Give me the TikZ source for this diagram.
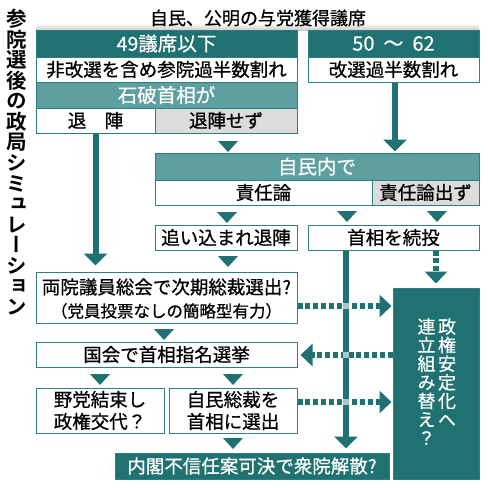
\documentclass[tikz,border=0pt]{standalone}
\usepackage{fontspec}
\setmainfont{Noto Sans CJK JP}[FakeBold=0.7]
\newfontfamily\vfont[RawFeature=+vert,FakeBold=0.7]{Noto Sans CJK JP}
\newfontfamily\vfontb[RawFeature=+vert]{Noto Sans CJK JP Bold}
\usetikzlibrary{arrows.meta}
\definecolor{tealD}{HTML}{1F7172}
\definecolor{tealL}{HTML}{5E9FA0}
\definecolor{tealB}{HTML}{2E7F80}
\definecolor{cellG}{HTML}{DCDCDC}
\definecolor{crossL}{HTML}{A8CACA}
\begin{document}
\begin{tikzpicture}[x=1pt,y=-1pt,
  base/.style={draw=tealB, line width=1pt, inner sep=0pt, align=center, font=\fontsize{18.5}{22}\selectfont},
  whitecell/.style={base, fill=white, text=black},
  graycell/.style={base, fill=cellG, text=black},
  darkcell/.style={base, fill=tealD, text=white},
  lightcell/.style={base, fill=tealL, text=white},
  headfont/.style={font=\fontsize{19.5}{22}\selectfont},
  textonly/.style={inner sep=0pt, font=\fontsize{18.5}{22}\selectfont},
  solidarrow/.style={draw=tealD, line width=6pt, -{Triangle[width=23pt,length=12pt]}},
  dotarrow/.style={draw=tealD, line width=6pt, dash pattern=on 5pt off 2.8pt, -{Triangle[width=22pt,length=12pt]}},
  vtext/.style={anchor=north, inner sep=0pt, align=center, text=white, font=\vfont\fontsize{18}{18.6}\selectfont}
]
\useasboundingbox (0,0) rectangle (488,488);
\fill[white] (0,0) rectangle (488,488);
\shade[top color=white, bottom color=gray!40] (36,23) rectangle (479,30);

% title and top label
\node[anchor=north, inner sep=0pt, align=center, font=\vfontb\fontsize{20.5}{20.55}\selectfont] (title) at (17,9)
  {参\\院\\選\\後\\の\\政\\局\\シ\\ミ\\ュ\\レ\\ー\\シ\\ョ\\ン};
\node[textonly, font=\fontsize{18}{22}\selectfont] (toplabel) at (258,18) {自民、公明の与党獲得議席};

% left block
\node[darkcell, headfont, minimum width=261pt, minimum height=27pt] (h49) at (166.5,43.5) {49議席以下};
\node[whitecell, minimum width=261pt, minimum height=25pt] (hirai) at (166.5,69.5) {非改選を含め参院過半数割れ};
\node[lightcell, headfont, minimum width=261pt, minimum height=26pt] (ishiba) at (166.5,95) {石破首相が};
\node[whitecell, minimum width=119pt, minimum height=25pt] (taijin) at (95.5,120.5) {退　陣};
\node[graycell, minimum width=142pt, minimum height=25pt] (sezu) at (226,120.5) {退陣せず};

% right block
\node[darkcell, headfont, minimum width=171pt, minimum height=27pt] (h50) at (393.5,43.5) {\fontsize{20}{22}\selectfont 50\hspace{0.45em}～\hspace{0.45em}62};
\node[whitecell, minimum width=171pt, minimum height=25pt] (kaisen) at (393.5,69.5) {改選過半数割れ};

% jimin-nai block
\node[lightcell, headfont, minimum width=324pt, minimum height=27pt] (jiminnai) at (317,166.5) {自民内で};
\node[whitecell, minimum width=217pt, minimum height=25pt] (sekinin) at (263.5,192.5) {責任論};
\node[graycell, minimum width=107pt, minimum height=25pt] (dezu) at (425.5,192.5) {責任論出ず};

\node[whitecell, minimum width=142pt, minimum height=25pt] (oikomi) at (226,237.5) {追い込まれ退陣};
\node[whitecell, minimum width=171pt, minimum height=25pt] (zokuto) at (393.5,237.5) {首相を続投};

% lower left
\node[whitecell, minimum width=261pt, minimum height=51pt] (ryoin) at (166.5,297.5) {};
\node[textonly] (ryoinA) at (166.5,287) {両院議員総会で次期総裁選出?};
\node[textonly, font=\fontsize{16.5}{20}\selectfont] (ryoinB) at (166.5,311) {（党員投票なしの簡略型有力）};
\node[whitecell, minimum width=261pt, minimum height=25pt] (kokkai) at (166.5,354.5) {国会で首相指名選挙};
\node[whitecell, minimum width=128pt, minimum height=45pt] (yato) at (100,410.5) {野党結束し\\政権交代？};
\node[whitecell, minimum width=128pt, minimum height=45pt] (jimin) at (233,410.5) {自民総裁を\\首相に選出};
\node[darkcell, minimum width=274pt, minimum height=26pt] (naikaku) at (252,466) {内閣不信任案可決で衆院解散?};

% right big box
\node[darkcell, minimum width=86pt, minimum height=191pt] (seiken) at (436,383.5) {};
\node[vtext] (seikenR) at (447,318) {政\\権\\安\\定\\化\\へ};
\node[vtext] (seikenL) at (426.5,318) {連\\立\\組\\み\\替\\え\\？};

% solid arrows
\draw[solidarrow] (taijin.south) -- ([yshift=6pt]ryoin.north -| taijin.south);
\draw[solidarrow] (kaisen.south -| 395,0) -- ([yshift=1pt]jiminnai.north -| 395,0);
\draw[solidarrow] (zokuto.south -| 346,0) -- ([yshift=4pt]naikaku.north -| 346,0);

% dotted arrows
\draw[dotarrow] (zokuto.south -| 436,0) -- ([yshift=4pt]seiken.north -| 436,0);
\draw[dotarrow] (ryoin.east |- 0,306) -- ([xshift=-1pt]seiken.west |- 0,306);
\draw[dotarrow] (seiken.west |- 0,355) -- ([xshift=3pt]kokkai.east |- 0,355);
\draw[dotarrow] (jimin.east |- 0,402) -- ([xshift=-1pt]seiken.west |- 0,402);

% crossing marks
\foreach \yy in {306,355,402}
  \fill[crossL] (343,\yy-3) rectangle (349,\yy+3);

% small triangles
\foreach \xx/\yy in {228/141, 227/212, 347/211, 437/211, 228/256, 164/329, 100/374, 233/374, 233/438}
  \fill[tealD] (\xx-10,\yy) -- (\xx+10,\yy) -- (\xx,\yy+11) -- cycle;
\end{tikzpicture}
\end{document}
